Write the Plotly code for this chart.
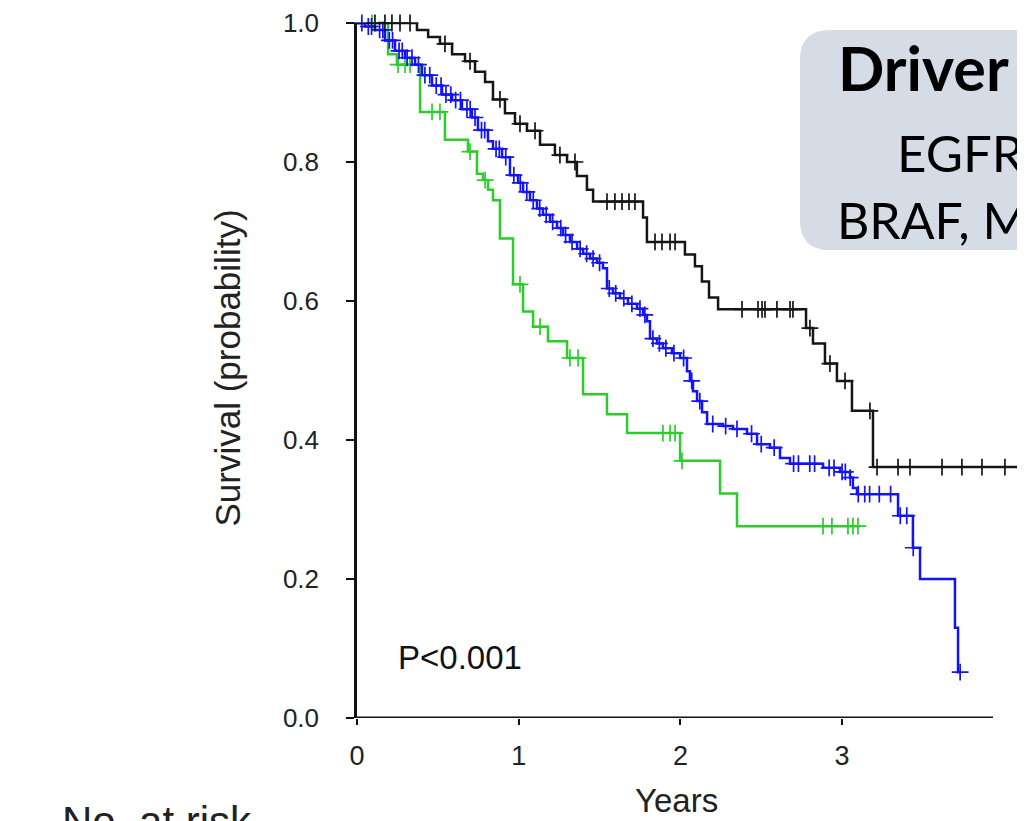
import numpy as np
import plotly.graph_objects as go

# ---------------- data ----------------
black_t = [0, 0.371, 0.44, 0.513, 0.588, 0.668, 0.730, 0.792, 0.841, 0.915, 0.977,
           1.051, 1.132, 1.224, 1.299, 1.360, 1.422, 1.460, 1.769, 1.793, 2.028,
           2.09, 2.133, 2.177, 2.233, 2.777, 2.82, 2.894, 2.968, 3.061, 3.191, 4.2]
black_s = [1.0, 0.99, 0.98, 0.97, 0.955, 0.945, 0.93, 0.915, 0.89, 0.87, 0.855,
           0.845, 0.825, 0.81, 0.80, 0.78, 0.76, 0.743, 0.72, 0.685, 0.667,
           0.65, 0.628, 0.605, 0.588, 0.561, 0.539, 0.51, 0.485, 0.442, 0.361, 0.361]
black_cens = [0.111, 0.173, 0.216, 0.266, 0.328, 0.544, 0.699, 0.884, 1.008, 1.101,
              1.255, 1.348, 1.546, 1.595, 1.639, 1.682, 1.719, 1.843, 1.886, 1.936,
              1.967, 2.381, 2.480, 2.505, 2.523, 2.597, 2.678, 2.696, 2.801, 2.925,
              3.018, 3.172, 3.216, 3.346, 3.42, 3.618, 3.741, 3.865, 4.007]

blue_t = [0, 0.049, 0.111, 0.173, 0.235, 0.297, 0.359, 0.402, 0.464, 0.526, 0.588,
          0.649, 0.711, 0.748, 0.810, 0.841, 0.897, 0.946, 0.996, 1.027, 1.070,
          1.113, 1.150, 1.194, 1.237, 1.274, 1.317, 1.361, 1.398, 1.441, 1.484,
          1.521, 1.546, 1.583, 1.626, 1.676, 1.732, 1.769, 1.793, 1.812, 1.855,
          1.892, 1.948, 1.998, 2.041, 2.059, 2.078, 2.103, 2.134, 2.165, 2.263,
          2.325, 2.412, 2.474, 2.554, 2.616, 2.678, 2.882, 2.987, 3.049, 3.067,
          3.092, 3.346, 3.438, 3.482, 3.698, 3.717, 3.73]
blue_s = [1.0, 0.995, 0.99, 0.975, 0.96, 0.95, 0.94, 0.925, 0.91, 0.897, 0.889,
          0.876, 0.864, 0.846, 0.83, 0.819, 0.807, 0.781, 0.77, 0.757, 0.745,
          0.733, 0.724, 0.714, 0.705, 0.695, 0.685, 0.675, 0.668, 0.661, 0.655,
          0.647, 0.618, 0.611, 0.604, 0.596, 0.589, 0.58, 0.571, 0.546, 0.539,
          0.532, 0.525, 0.518, 0.499, 0.485, 0.47, 0.456, 0.44, 0.423, 0.42,
          0.416, 0.409, 0.394, 0.389, 0.374, 0.366, 0.36, 0.354, 0.346, 0.331,
          0.322, 0.291, 0.245, 0.2, 0.13, 0.066, 0.066]
blue_cens = [0.03, 0.07, 0.09, 0.14, 0.16, 0.2, 0.22, 0.26, 0.28, 0.31, 0.34, 0.38,
             0.42, 0.45, 0.49, 0.52, 0.55, 0.58, 0.61, 0.64, 0.68, 0.70, 0.73, 0.77,
             0.79, 0.86, 0.88, 0.92, 0.97, 1.01, 1.05, 1.09, 1.13, 1.17, 1.21, 1.26,
             1.29, 1.33, 1.38, 1.42, 1.46, 1.5, 1.56, 1.6, 1.65, 1.7, 1.75, 1.78,
             1.83, 1.87, 1.91, 1.96, 2.02, 2.07, 2.12, 2.2, 2.28, 2.35, 2.44, 2.5,
             2.58, 2.7, 2.73, 2.8, 2.83, 2.92, 2.95, 3.0, 3.02, 3.05, 3.1, 3.14,
             3.17, 3.23, 3.3, 3.36, 3.40, 3.44, 3.73]

green_t = [0, 0.192, 0.247, 0.39, 0.544, 0.686, 0.742, 0.779, 0.810, 0.841, 0.884,
           0.965, 1.027, 1.089, 1.181, 1.299, 1.398, 1.546, 1.670, 1.998, 2.245,
           2.350, 3.111]
green_s = [1.0, 0.955, 0.94, 0.872, 0.832, 0.815, 0.783, 0.774, 0.76, 0.745, 0.69,
           0.624, 0.585, 0.563, 0.542, 0.518, 0.466, 0.437, 0.41, 0.37, 0.323,
           0.276, 0.276]
green_cens = [0.093, 0.254, 0.297, 0.328, 0.464, 0.513, 0.699, 0.792, 1.008, 1.132,
              1.317, 1.367, 1.892, 1.936, 1.967, 2.01, 2.882, 2.937, 3.036, 3.067,
              3.098]

x_ticks = [0, 1, 2, 3]
y_ticks = [0.0, 0.2, 0.4, 0.6, 0.8, 1.0]
y_ticktext = ["0.0", "0.2", "0.4", "0.6", "0.8", "1.0"]

# ---------------- layout constants ----------------
OFF = 8                      # default body margin of the html page
W, H = 1025 - OFF, 821 - OFF
ML, MR, MT, MB = 357 - OFF, 0, 20 - OFF, 103
PW, PH = W - ML - MR, H - MT - MB
X_MAX = PW / 161.7


def px2x(px):                # page pixel -> paper x
    return (px - OFF - ML) / PW


def py2y(py):                # page pixel -> paper y
    return (H - MB - (py - OFF)) / PH


def surv_at(times, surv, t):
    idx = np.searchsorted(np.asarray(times), np.asarray(t), side="right") - 1
    return np.asarray(surv)[idx]


fig = go.Figure()

groups = [
    (green_t, green_s, green_cens, "#2ccc2c"),
    (blue_t, blue_s, blue_cens, "#1414f0"),
    (black_t, black_s, black_cens, "#151515"),
]
for t, s, c, col in groups:
    fig.add_trace(go.Scatter(x=t, y=s, mode="lines", line=dict(color=col, width=2.5, shape="hv"),
                             showlegend=False, hoverinfo="skip"))
    fig.add_trace(go.Scatter(x=c, y=surv_at(t, s, c), mode="markers",
                             marker=dict(symbol="cross-thin-open", size=12, color=col,
                                         line=dict(color=col, width=1.7)),
                             showlegend=False, hoverinfo="skip", cliponaxis=False))

# rounded box (top right)
x0, x1 = px2x(800), px2x(1080)
y0, y1 = py2y(248), py2y(27)
rx, ry = 30 / PW, 30 / PH
path = (f"M {x0+rx},{y1} L {x1},{y1} L {x1},{y0} L {x0+rx},{y0} "
        f"Q {x0},{y0} {x0},{y0+ry} L {x0},{y1-ry} Q {x0},{y1} {x0+rx},{y1} Z")
fig.add_shape(type="path", path=path, xref="paper", yref="paper",
              fillcolor="#d6dce5", line=dict(width=0), layer="above")

# x axis line
fig.add_shape(type="line", xref="x", yref="y", x0=-0.04, x1=3.933, y0=0, y1=0,
              line=dict(color="#111", width=3), layer="above")

sans = "Liberation Sans, Arial, sans-serif"
ann = []
ann.append(dict(text="<b>Driver</b>", x=px2x(836), y=py2y(65), xanchor="left", yanchor="middle",
                font=dict(family="Lato", size=61, color="#000"), showarrow=False,
                xref="paper", yref="paper"))
ann.append(dict(text="EGFR,", x=px2x(895), y=py2y(150), xanchor="left", yanchor="middle",
                font=dict(family="Lato", size=51, color="#000"), showarrow=False,
                xref="paper", yref="paper"))
ann.append(dict(text="BRAF, M", x=px2x(835), y=py2y(218), xanchor="left", yanchor="middle",
                font=dict(family="Lato", size=50, color="#000"), showarrow=False,
                xref="paper", yref="paper"))
ann.append(dict(text="P<0.001", x=px2x(396), y=py2y(657), xanchor="left", yanchor="middle",
                font=dict(family=sans, size=33, color="#111"), showarrow=False,
                xref="paper", yref="paper"))
ann.append(dict(text="Survival (probability)", x=px2x(228), y=py2y(367), textangle=-90,
                xanchor="center", yanchor="middle",
                font=dict(family=sans, size=35, color="#222"), showarrow=False,
                xref="paper", yref="paper"))
ann.append(dict(text="Years", x=px2x(676), y=py2y(801), xanchor="center", yanchor="middle",
                font=dict(family=sans, size=33, color="#222"), showarrow=False,
                xref="paper", yref="paper"))
ann.append(dict(text="No. at risk", x=px2x(60), y=py2y(796), xanchor="left", yanchor="top",
                font=dict(family=sans, size=42, color="#222"), showarrow=False,
                xref="paper", yref="paper"))

fig.update_layout(
    width=W, height=H,
    margin=dict(l=ML, r=MR, t=MT, b=MB, pad=0),
    paper_bgcolor="white", plot_bgcolor="white",
    annotations=ann,
    xaxis=dict(range=[0, X_MAX], tickvals=x_ticks, ticks="outside", ticklen=6,
               tickwidth=2, tickcolor="#111", showline=False, showgrid=False,
               zeroline=False, tickfont=dict(family=sans, size=27, color="#222"),
               ticklabelstandoff=8, ticklabeloverflow="allow"),
    yaxis=dict(range=[0, 1], tickvals=y_ticks, ticktext=y_ticktext, ticks="outside",
               ticklen=8, tickwidth=2, tickcolor="#111", showline=True, linewidth=2.5,
               linecolor="#111", showgrid=False, zeroline=False,
               tickfont=dict(family=sans, size=26, color="#222"),
               ticklabelstandoff=22, ticklabeloverflow="allow"),
)

fig.write_html("out.html")
